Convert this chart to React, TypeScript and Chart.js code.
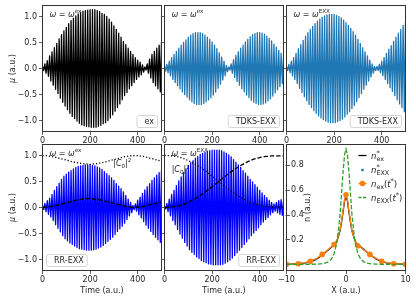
import React, { useEffect, useRef } from 'react';
import { Chart, registerables } from 'chart.js';

Chart.register(...registerables);

// ---------------- data ----------------
const TIME_TICKS = [0, 200, 400];
const MU_TICKS = [-1, -0.5, 0, 0.5, 1];
const X_TICKS = [-10, 0, 10];
const N_TICKS = [0.2, 0.4, 0.6, 0.8];

// one oscillation every TIME_STEP a.u.; amplitude of each oscillation (t = 0,10,...,500)
const TIME_STEP = 10;
const AMP_EX = [0.04, 0.09, 0.15, 0.24, 0.32, 0.40, 0.48, 0.57, 0.65, 0.72, 0.79, 0.86, 0.92, 0.96, 1.01, 1.05, 1.08, 1.10, 1.11, 1.12, 1.13, 1.13, 1.13, 1.11, 1.09, 1.06, 1.04, 1.00, 0.95, 0.89, 0.82, 0.75, 0.68, 0.60, 0.52, 0.46, 0.39, 0.33, 0.27, 0.21, 0.16, 0.12, 0.07, 0.03, 0.09, 0.18, 0.27, 0.33, 0.39, 0.45, 0.51];
const AMP_TDKS_EX = [0.05, 0.08, 0.14, 0.21, 0.27, 0.33, 0.39, 0.45, 0.50, 0.55, 0.60, 0.64, 0.67, 0.69, 0.69, 0.69, 0.67, 0.64, 0.60, 0.56, 0.51, 0.45, 0.38, 0.30, 0.22, 0.14, 0.06, 0.03, 0.09, 0.17, 0.25, 0.32, 0.39, 0.45, 0.51, 0.56, 0.61, 0.65, 0.67, 0.69, 0.69, 0.68, 0.66, 0.62, 0.58, 0.53, 0.47, 0.41, 0.35, 0.29, 0.23];
const AMP_TDKS_EXX = [0.04, 0.08, 0.14, 0.21, 0.29, 0.38, 0.46, 0.54, 0.62, 0.69, 0.75, 0.81, 0.86, 0.91, 0.95, 0.98, 1.01, 1.03, 1.04, 1.04, 1.04, 1.02, 1.00, 0.97, 0.93, 0.88, 0.83, 0.77, 0.71, 0.64, 0.56, 0.48, 0.40, 0.32, 0.24, 0.16, 0.09, 0.04, 0.04, 0.08, 0.14, 0.21, 0.29, 0.37, 0.44, 0.52, 0.60, 0.68, 0.75, 0.83, 0.90];
const AMP_RR_EX = [0.04, 0.08, 0.13, 0.18, 0.25, 0.33, 0.40, 0.47, 0.54, 0.60, 0.64, 0.68, 0.71, 0.74, 0.77, 0.79, 0.80, 0.81, 0.82, 0.82, 0.82, 0.81, 0.80, 0.78, 0.76, 0.73, 0.69, 0.65, 0.61, 0.57, 0.52, 0.46, 0.41, 0.36, 0.30, 0.23, 0.16, 0.10, 0.04, 0.07, 0.14, 0.20, 0.27, 0.34, 0.40, 0.46, 0.52, 0.57, 0.62, 0.67, 0.71];
const AMP_RR_EXX = [0.03, 0.08, 0.16, 0.25, 0.33, 0.42, 0.51, 0.59, 0.67, 0.74, 0.81, 0.86, 0.90, 0.95, 0.98, 1.02, 1.04, 1.06, 1.08, 1.09, 1.10, 1.10, 1.10, 1.10, 1.09, 1.07, 1.04, 1.01, 0.97, 0.92, 0.87, 0.82, 0.77, 0.71, 0.66, 0.60, 0.54, 0.49, 0.44, 0.39, 0.33, 0.28, 0.23, 0.19, 0.14, 0.10, 0.07, 0.10, 0.13, 0.15, 0.12];

// populations |C0|^2 (dotted) and 1-|C0|^2 (dashed)
const POP_T = [0, 25, 50, 75, 100, 125, 150, 175, 200, 225, 250, 275, 300, 325, 350, 375, 400, 425, 450, 475, 500];
const C0_RR_EX = [1.0, 0.99, 0.97, 0.94, 0.91, 0.88, 0.855, 0.84, 0.83, 0.84, 0.86, 0.89, 0.92, 0.95, 0.98, 0.995, 0.995, 0.98, 0.95, 0.92, 0.89];
const C1_RR_EX = [0, 0.01, 0.03, 0.06, 0.09, 0.12, 0.15, 0.165, 0.17, 0.16, 0.14, 0.11, 0.08, 0.05, 0.02, 0.005, 0.005, 0.02, 0.05, 0.08, 0.11];
const C0_RR_EXX = [1.0, 0.995, 0.98, 0.95, 0.90, 0.84, 0.77, 0.69, 0.60, 0.51, 0.42, 0.33, 0.25, 0.18, 0.12, 0.07, 0.04, 0.02, 0.01, 0.01, 0.01];
const C1_RR_EXX = [0, 0.005, 0.02, 0.05, 0.10, 0.16, 0.23, 0.31, 0.40, 0.49, 0.58, 0.67, 0.75, 0.82, 0.88, 0.93, 0.96, 0.98, 0.99, 0.99, 0.99];

// densities
const X_GRID = [-10, -9, -8, -7, -6, -5, -4, -3.5, -3, -2.5, -2, -1.5, -1, -0.75, -0.5, -0.25, 0, 0.25, 0.5, 0.75, 1, 1.5, 2, 2.5, 3, 3.5, 4, 5, 6, 7, 8, 9, 10];
const N_EX_STAR = [0.001, 0.002, 0.005, 0.01, 0.02, 0.04, 0.075, 0.095, 0.115, 0.135, 0.155, 0.19, 0.27, 0.34, 0.42, 0.51, 0.55, 0.51, 0.42, 0.34, 0.27, 0.19, 0.155, 0.14, 0.12, 0.10, 0.08, 0.045, 0.022, 0.01, 0.005, 0.002, 0.001];
const N_EX_T = [0.001, 0.002, 0.005, 0.012, 0.025, 0.045, 0.08, 0.10, 0.12, 0.14, 0.16, 0.195, 0.28, 0.35, 0.43, 0.52, 0.56, 0.52, 0.43, 0.35, 0.27, 0.19, 0.15, 0.135, 0.115, 0.10, 0.08, 0.05, 0.025, 0.012, 0.005, 0.002, 0.001];
const N_EXX_T = [0, 0, 0, 0, 0, 0.001, 0.005, 0.01, 0.02, 0.04, 0.085, 0.18, 0.40, 0.57, 0.74, 0.88, 0.93, 0.88, 0.74, 0.57, 0.40, 0.18, 0.085, 0.04, 0.02, 0.01, 0.005, 0.001, 0, 0, 0, 0, 0];
const X_MARK = [-10, -8, -6, -4, -2, 0, 2, 4, 6, 8, 10];
const N_EX_T_MARK = [0.001, 0.005, 0.025, 0.08, 0.16, 0.56, 0.15, 0.08, 0.025, 0.005, 0.001];
const X_DOTS = [-10, -9, -8, -7, -6, -5, -4, -3, -2, -1, 0, 1, 2, 3, 4, 5, 6, 7, 8, 9, 10];
const N_EXX_STAR = [0.001, 0.002, 0.005, 0.01, 0.02, 0.04, 0.075, 0.115, 0.155, 0.27, 0.55, 0.27, 0.155, 0.12, 0.08, 0.045, 0.022, 0.01, 0.005, 0.002, 0.001];

// ---------------- layout / style ----------------
const W = 416, H = 301;
const COLS: [number, number][] = [[42.5, 161.5], [164.5, 283.5], [286.5, 405.5]];
const ROWS: [number, number][] = [[5.5, 131.5], [144.5, 270.5]];
const YW = 24, XH = 14;
const FAMILY = '"DejaVu Sans", sans-serif';
const TXT = '#262626';
const AX = '#333333';
const FS = 8;

type Seg = { t: string; it?: boolean; s?: number; dy?: number; stack?: boolean };

function fontStr(size: number, it?: boolean) {
  return `${it ? 'italic ' : ''}${size}px ${FAMILY}`;
}
function richWidth(ctx: CanvasRenderingContext2D, segs: Seg[], size: number) {
  let w = 0, sw0 = 0, inStack = false;
  for (const sg of segs) {
    ctx.font = fontStr(size * (sg.s ?? 1), sg.it);
    const sw = ctx.measureText(sg.t).width;
    if (sg.stack) { sw0 = sw; inStack = true; continue; }
    if (inStack) { w += Math.max(sw0, sw); inStack = false; } else w += sw;
  }
  return w;
}
function drawRich(ctx: CanvasRenderingContext2D, segs: Seg[], x: number, y: number, size: number, align: 'left' | 'center' | 'right' = 'left') {
  const total = richWidth(ctx, segs, size);
  let cx = align === 'left' ? x : align === 'center' ? x - total / 2 : x - total;
  let sw0 = 0, inStack = false;
  ctx.textAlign = 'left';
  ctx.textBaseline = 'alphabetic';
  ctx.fillStyle = TXT;
  for (const sg of segs) {
    ctx.font = fontStr(size * (sg.s ?? 1), sg.it);
    const sw = ctx.measureText(sg.t).width;
    ctx.fillText(sg.t, cx, y + (sg.dy ?? 0));
    if (sg.stack) { sw0 = sw; inStack = true; continue; }
    if (inStack) { cx += Math.max(sw0, sw); inStack = false; } else cx += sw;
  }
}

function oscillation(amp: number[]) {
  const out: { x: number; y: number }[] = [];
  amp.forEach((a, k) => {
    const t = k * TIME_STEP;
    out.push({ x: t, y: a });
    if (k < amp.length - 1) out.push({ x: t + TIME_STEP / 2, y: -a });
  });
  return out;
}
const zip = (xs: number[], ys: number[]) => xs.map((x, i) => ({ x, y: ys[i] }));

const fmtMu = (v: number) => v.toFixed(1).replace('-', '\u2212');
const fmtInt = (v: number) => String(v).replace('-', '\u2212');
const fmtN = (v: number) => v.toFixed(1);

const oscSet = (amp: number[], color: string) => ({
  data: oscillation(amp), borderColor: color, borderWidth: 1.3, pointRadius: 0,
  borderJoinStyle: 'round', fill: false,
});
const popSet = (ys: number[], dash: number[]) => ({
  data: zip(POP_T, ys), borderColor: '#000', borderWidth: 1.3, borderDash: dash, pointRadius: 0, fill: false,
});
const DASHED = [4.4, 1.9];
const DOTTED = [1.2, 2.0];

interface Panel {
  row: number; col: number;
  xMin: number; xMax: number; xTicks: number[]; xFmt: (v: number) => string;
  yMin: number; yMax: number; yTicks: number[]; yFmt: (v: number) => string;
  yLabels: boolean; yMirror?: boolean;
  datasets: any[];
  omega?: string;
  box?: { text: string; side: 'left' | 'right' };
  c0?: [number, number];
  yTitle?: Seg[]; xTitle?: string;
  densityLegend?: boolean;
}

const MU_TITLE: Seg[] = [{ t: '\u03bc', it: true }, { t: ' (a.u.)' }];
const timeBase = { xMin: 0, xMax: 500, xTicks: TIME_TICKS, xFmt: fmtInt, yMin: -1.21, yMax: 1.21, yTicks: MU_TICKS, yFmt: fmtMu };

const PANELS: Panel[] = [
  { ...timeBase, row: 0, col: 0, yLabels: true, datasets: [oscSet(AMP_EX, '#000000')], omega: 'ex', box: { text: 'ex', side: 'right' }, yTitle: MU_TITLE },
  { ...timeBase, row: 0, col: 1, yLabels: false, datasets: [oscSet(AMP_TDKS_EX, '#1f77b4')], omega: 'ex', box: { text: 'TDKS-EXX', side: 'right' } },
  { ...timeBase, row: 0, col: 2, yLabels: false, datasets: [oscSet(AMP_TDKS_EXX, '#1f77b4')], omega: 'EXX', box: { text: 'TDKS-EXX', side: 'right' } },
  { ...timeBase, row: 1, col: 0, yLabels: true, datasets: [popSet(C1_RR_EX, DASHED), popSet(C0_RR_EX, DOTTED), oscSet(AMP_RR_EX, '#0000ff')], omega: 'ex', box: { text: 'RR-EXX', side: 'left' }, c0: [297, 0.8], yTitle: MU_TITLE, xTitle: 'Time (a.u.)' },
  { ...timeBase, row: 1, col: 1, yLabels: false, datasets: [popSet(C1_RR_EXX, DASHED), popSet(C0_RR_EXX, DOTTED), oscSet(AMP_RR_EXX, '#0000ff')], omega: 'EXX', box: { text: 'RR-EXX', side: 'right' }, c0: [30, 0.68], xTitle: 'Time (a.u.)' },
  {
    row: 1, col: 2, xMin: -10, xMax: 10, xTicks: X_TICKS, xFmt: fmtInt, yMin: -0.05, yMax: 0.966, yTicks: N_TICKS, yFmt: fmtN,
    yLabels: true, yMirror: true, xTitle: 'X (a.u.)', densityLegend: true,
    datasets: [
      { data: zip(X_GRID, N_EXX_T), borderColor: '#2ca02c', borderWidth: 1.3, borderDash: DASHED, pointRadius: 0, clip: 0 },
      { data: zip(X_MARK, N_EX_T_MARK), showLine: false, pointRadius: 2.8, pointBackgroundColor: '#ff7f0e', pointBorderColor: '#ff7f0e', pointBorderWidth: 0, clip: 0 },
      { data: zip(X_GRID, N_EX_T), borderColor: '#ff7f0e', borderWidth: 1.3, pointRadius: 0, clip: 0 },
      { data: zip(X_DOTS, N_EXX_STAR), showLine: false, pointStyle: 'rect', pointRadius: 1.2, pointBackgroundColor: '#1f77b4', pointBorderColor: '#1f77b4', pointBorderWidth: 0, clip: 0 },
      { data: zip(X_GRID, N_EX_STAR), borderColor: '#000000', borderWidth: 1.3, pointRadius: 0, clip: 0 },
    ],
  },
];

function zeroPad(s: any) {
  s.paddingLeft = 0; s.paddingRight = 0; s.paddingTop = 0; s.paddingBottom = 0;
}

function roundRect(ctx: CanvasRenderingContext2D, x: number, y: number, w: number, h: number, r: number) {
  ctx.beginPath();
  ctx.moveTo(x + r, y);
  ctx.lineTo(x + w - r, y); ctx.arcTo(x + w, y, x + w, y + r, r);
  ctx.lineTo(x + w, y + h - r); ctx.arcTo(x + w, y + h, x + w - r, y + h, r);
  ctx.lineTo(x + r, y + h); ctx.arcTo(x, y + h, x, y + h - r, r);
  ctx.lineTo(x, y + r); ctx.arcTo(x, y, x + r, y, r);
  ctx.closePath();
}

function makePlugin(p: Panel) {
  return {
    id: 'panelDeco',
    afterDatasetsDraw(chart: any) {
      const ctx: CanvasRenderingContext2D = chart.ctx;
      const a = chart.chartArea;
      ctx.save();
      if (p.box) {
        ctx.font = fontStr(FS);
        const tw = ctx.measureText(p.box.text).width;
        const bw = tw + 11, bh = 12;
        const bx = p.box.side === 'right' ? a.right - 4 - bw : a.left + 4;
        const by = a.bottom - 4 - bh;
        roundRect(ctx, bx, by, bw, bh, 2);
        ctx.fillStyle = 'rgba(255,255,255,0.8)';
        ctx.fill();
        ctx.strokeStyle = '#cccccc';
        ctx.lineWidth = 0.8;
        ctx.stroke();
        ctx.fillStyle = TXT;
        ctx.textAlign = 'right';
        ctx.textBaseline = 'middle';
        ctx.fillText(p.box.text, bx + bw - 3.5, by + bh / 2 + 0.5);
      }
      if (p.omega) {
        drawRich(ctx, [{ t: '\u03c9', it: true }, { t: ' = ' }, { t: '\u03c9', it: true }, { t: p.omega, s: 0.7, dy: -3.5 }], a.left + 7, a.top + 11, FS);
      }
      if (p.c0) {
        const x = chart.scales.x.getPixelForValue(p.c0[0]);
        const y = chart.scales.y.getPixelForValue(p.c0[1]);
        drawRich(ctx, [{ t: '|' }, { t: 'C', it: true }, { t: '0', s: 0.7, dy: 1.8 }, { t: '|' }, { t: '2', s: 0.7, dy: -3.5 }], x, y, FS);
      }
      ctx.restore();
    },
    afterDraw(chart: any) {
      const ctx: CanvasRenderingContext2D = chart.ctx;
      const a = chart.chartArea;
      ctx.save();
      // spines
      ctx.strokeStyle = AX;
      ctx.lineWidth = 1;
      ctx.strokeRect(a.left, a.top, a.right - a.left, a.bottom - a.top);
      // inward y ticks for mirrored axis
      if (p.yMirror) {
        const ys = chart.scales.y;
        ctx.lineWidth = 0.8;
        ctx.beginPath();
        for (const v of p.yTicks) {
          const y = Math.round(ys.getPixelForValue(v)) + 0.5;
          ctx.moveTo(a.left - 1, y);
          ctx.lineTo(a.left + 3.5, y);
        }
        ctx.stroke();
        ctx.save();
        ctx.translate(a.left + 20, (a.top + a.bottom) / 2);
        ctx.rotate(-Math.PI / 2);
        drawRich(ctx, [{ t: 'n (a.u.)' }], 0, 3, FS, 'center');
        ctx.restore();
      }
      if (p.yTitle) {
        ctx.save();
        ctx.translate(12, (a.top + a.bottom) / 2);
        ctx.rotate(-Math.PI / 2);
        drawRich(ctx, p.yTitle, 0, 3, FS, 'center');
        ctx.restore();
      }
      if (p.xTitle) {
        drawRich(ctx, [{ t: p.xTitle }], (a.left + a.right) / 2, 293, FS, 'center');
      }
      if (p.densityLegend) {
        const hx0 = a.right - 47, hx1 = hx0 + 8, tx = hx1 + 4.5;
        const rows = [a.top + 11, a.top + 25.5, a.top + 39, a.top + 53];
        const LF = 8.5;
        // black line
        ctx.lineWidth = 1.3;
        ctx.strokeStyle = '#000';
        ctx.beginPath(); ctx.moveTo(hx0, rows[0]); ctx.lineTo(hx1, rows[0]); ctx.stroke();
        // blue dot
        ctx.fillStyle = '#1f77b4';
        ctx.fillRect((hx0 + hx1) / 2 - 1.2, rows[1] - 1.2, 2.4, 2.4);
        // orange line + circle
        ctx.strokeStyle = '#ff7f0e';
        ctx.beginPath(); ctx.moveTo(hx0, rows[2]); ctx.lineTo(hx1, rows[2]); ctx.stroke();
        ctx.fillStyle = '#ff7f0e';
        ctx.beginPath(); ctx.arc((hx0 + hx1) / 2, rows[2], 2.8, 0, Math.PI * 2); ctx.fill();
        // green dashed
        ctx.strokeStyle = '#2ca02c';
        ctx.setLineDash([3, 1.5]);
        ctx.beginPath(); ctx.moveTo(hx0, rows[3]); ctx.lineTo(hx1, rows[3]); ctx.stroke();
        ctx.setLineDash([]);
        const labels: Seg[][] = [
          [{ t: 'n', it: true }, { t: '*', s: 0.75, dy: -3.8, stack: true }, { t: 'ex', s: 0.75, dy: 2.2 }],
          [{ t: 'n', it: true }, { t: '*', s: 0.75, dy: -3.8, stack: true }, { t: 'EXX', s: 0.75, dy: 2.2 }],
          [{ t: 'n', it: true }, { t: 'ex', s: 0.75, dy: 2.2 }, { t: '(' }, { t: 't', it: true }, { t: '*', s: 0.75, dy: -3.8 }, { t: ')' }],
          [{ t: 'n', it: true }, { t: 'EXX', s: 0.75, dy: 2.2 }, { t: '(' }, { t: 't', it: true }, { t: '*', s: 0.75, dy: -3.8 }, { t: ')' }],
        ];
        labels.forEach((segs, i) => drawRich(ctx, segs, tx, rows[i] + 3, LF));
      }
      ctx.restore();
    },
  };
}

function buildConfig(p: Panel): any {
  const [L, R] = COLS[p.col];
  const [T, B] = ROWS[p.row];
  const tickFont = { family: FAMILY, size: FS };
  return {
    type: 'line',
    data: { datasets: p.datasets },
    options: {
      responsive: false,
      animation: false,
      devicePixelRatio: 1,
      events: [],
      layout: { padding: { left: L - YW, right: W - R, top: T, bottom: H - B - XH } },
      plugins: { legend: { display: false }, tooltip: { enabled: false } },
      elements: { line: { tension: 0 }, point: { radius: 0 } },
      scales: {
        x: {
          type: 'linear', min: p.xMin, max: p.xMax,
          afterBuildTicks: (s: any) => { s.ticks = p.xTicks.map((v) => ({ value: v })); },
          afterFit: (s: any) => { s.height = XH; zeroPad(s); },
          ticks: { callback: (v: any) => p.xFmt(Number(v)), font: tickFont, color: TXT, padding: 1.5, maxRotation: 0, minRotation: 0, autoSkip: false },
          grid: { display: true, drawOnChartArea: false, drawTicks: true, tickLength: 3.5, color: AX, lineWidth: 0.8 },
          border: { display: false },
        },
        y: {
          type: 'linear', min: p.yMin, max: p.yMax,
          afterBuildTicks: (s: any) => { s.ticks = p.yTicks.map((v) => ({ value: v })); },
          afterFit: (s: any) => { s.width = YW; zeroPad(s); },
          ticks: { callback: (v: any) => (p.yLabels ? p.yFmt(Number(v)) : ''), mirror: !!p.yMirror, padding: p.yMirror ? 4.5 : 2, font: tickFont, color: TXT, autoSkip: false },
          grid: { display: !p.yMirror, drawOnChartArea: false, drawTicks: true, tickLength: 3.5, color: AX, lineWidth: 0.8 },
          border: { display: false },
        },
      },
    },
    plugins: [makePlugin(p)],
  };
}

function PanelChart({ p }: { p: Panel }) {
  const ref = useRef<HTMLCanvasElement>(null);
  useEffect(() => {
    const chart = new Chart(ref.current as HTMLCanvasElement, buildConfig(p));
    return () => chart.destroy();
  }, [p]);
  return (
    <canvas ref={ref} width={W} height={H} style={{ position: 'absolute', left: 0, top: 0, width: W, height: H }} />
  );
}

export default function App() {
  return (
    <div style={{ position: 'absolute', left: 0, top: 0, width: W, height: H, background: '#ffffff', overflow: 'hidden' }}>
      {PANELS.map((p, i) => (
        <PanelChart key={i} p={p} />
      ))}
    </div>
  );
}
